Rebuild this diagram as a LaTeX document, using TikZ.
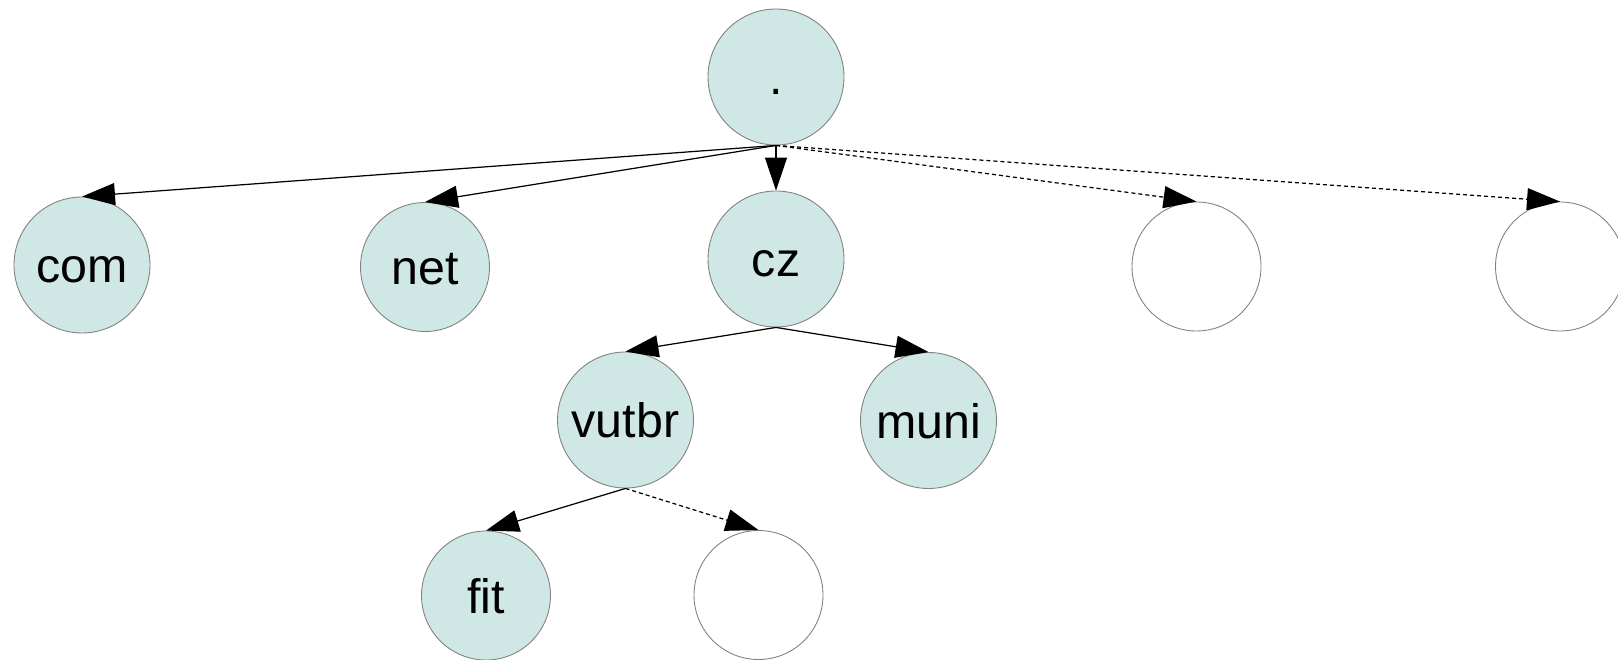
\documentclass[tikz,border=0pt]{standalone}
\usepackage{fontspec}
\setmainfont{Liberation Sans}
\usetikzlibrary{arrows.meta}
\definecolor{dnsteal}{HTML}{CFE7E5}
\definecolor{dnsgray}{HTML}{808080}

\begin{document}
\begin{tikzpicture}[
    zone/.style={circle,draw=dnsgray,line width=0.5pt,fill=dnsteal,inner sep=0pt,
      minimum size=2.72cm,font=\fontsize{27.5}{33}\selectfont,
      text height=0.7cm,text depth=0pt},
    small/.style={minimum size=2.58cm},
    blank/.style={zone,small,fill=white},
    link/.style={line width=0.7pt,-{Triangle[length=0.66cm,width=0.44cm]}},
    maybe/.style={link,dash pattern=on 2.3pt off 1.7pt}]

  \useasboundingbox (0,0) rectangle (32.36,-13.2);

  % ---- Root and top-level domains ---------------------------
  \node[zone]       (root)  at (15.52,-1.54) {.};
  \node[zone]       (com)   at (1.64,-5.30)  {com};
  \node[zone,small] (net)   at (8.50,-5.34)  {net};
  \node[zone]       (cz)    at (15.52,-5.18) {cz};
  \node[blank]      (tldA)  at (23.93,-5.33) {};
  \node[blank]      (tldB)  at (31.20,-5.33) {};

  % ---- Second and third level -------------------------------
  \node[zone]       (vutbr) at (12.51,-8.40) {vutbr};
  \node[zone]       (muni)  at (18.57,-8.41) {muni};
  \node[zone,small] (fit)   at (9.72,-11.91) {fit};
  \node[blank]      (sub)   at (15.17,-11.90) {};

  % ---- Delegations ------------------------------------------
  \draw[link]  (root.south) -- (com.north);
  \draw[link]  (root.south) -- (net.north);
  \draw[link]  (root.south) -- (cz.north);
  \draw[maybe] (root.south) -- (tldA.north);
  \draw[maybe] (root.south) -- (tldB.north);
  \draw[link]  (cz.south) -- (vutbr.north);
  \draw[link]  (cz.south) -- (muni.north);
  \draw[link]  (vutbr.south) -- (fit.north);
  \draw[maybe] (vutbr.south) -- (sub.north);

\end{tikzpicture}
\end{document}
